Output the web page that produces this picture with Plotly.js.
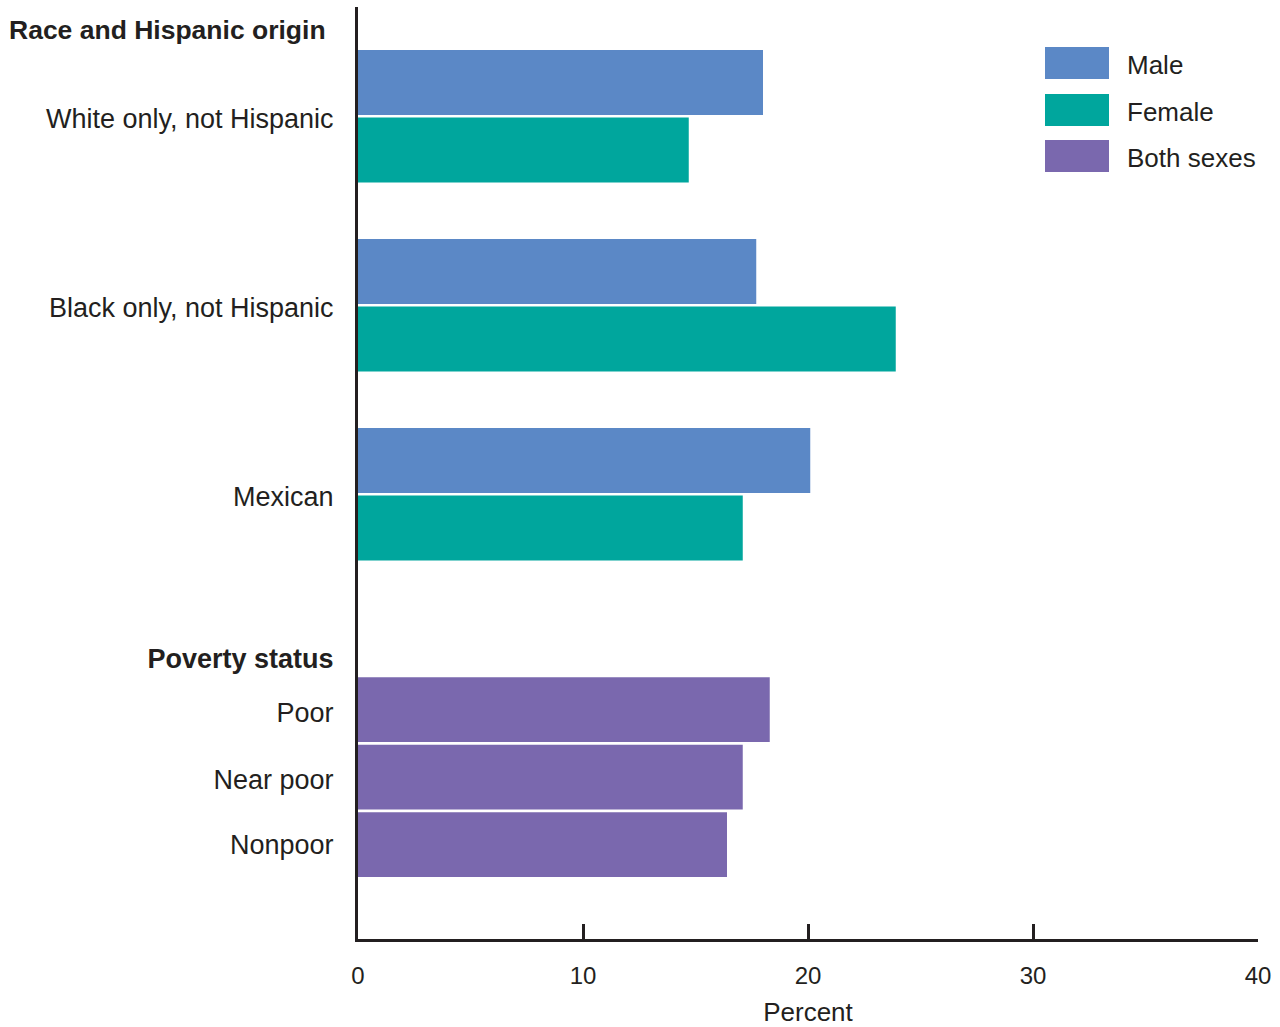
<!DOCTYPE html>
<html>
<head>
<meta charset="utf-8">
<script src="https://cdn.plot.ly/plotly-3.0.1.min.js"></script>
<style>html,body{margin:0;padding:0;background:#fff;}#chart{width:1280px;height:1027px;}</style>
</head>
<body>
<div id="chart"></div>
<script>
// ---- Data ----
const raceGroups = ["White only, not Hispanic", "Black only, not Hispanic", "Mexican"];
const maleValues = [18.0, 17.7, 20.1];
const femaleValues = [14.7, 23.9, 17.1];
const povertyGroups = ["Poor", "Near poor", "Nonpoor"];
const bothSexesValues = [18.3, 17.1, 16.4];
const seriesNames = ["Male", "Female", "Both sexes"];
const xTickValues = [0, 10, 20, 30, 40];
const xTitle = "Percent";
const raceHeader = "Race and Hispanic origin";
const povertyHeader = "Poverty status";

// ---- Layout helpers (row slots) ----
const colors = ["#5B88C6", "#00A69D", "#7A68AE"];
const groupPitch = 2.8;
const povertyStart = 9.29;
const raceMaleY = raceGroups.map((g, i) => i * groupPitch);
const raceFemaleY = raceGroups.map((g, i) => i * groupPitch + 1);
const povertyY = povertyGroups.map((g, j) => povertyStart + j);
const barW = 0.96;
const font = '"Liberation Sans", Arial, Helvetica, sans-serif';
const ink = "#231f20";

const traces = [
  {type: "bar", orientation: "h", name: seriesNames[0], x: maleValues, y: raceMaleY,
   width: barW, marker: {color: colors[0]}, hoverinfo: "x"},
  {type: "bar", orientation: "h", name: seriesNames[1], x: femaleValues, y: raceFemaleY,
   width: barW, marker: {color: colors[1]}, hoverinfo: "x"},
  {type: "bar", orientation: "h", name: seriesNames[2], x: bothSexesValues, y: povertyY,
   width: barW, marker: {color: colors[2]}, hoverinfo: "x"}
];

const labelNudge = [0.05, 0.03, 0.0];
const tickVals = raceGroups.map((g, i) => i * groupPitch + 0.54)
  .concat([povertyStart - 0.75])
  .concat(povertyY.map((v, j) => v + labelNudge[j]));
const tickText = raceGroups.concat(["<b>" + povertyHeader + "</b>"]).concat(povertyGroups);

// legend drawn as shapes + annotations
const legTop = [47, 94, 140];
const plotTop = 7, plotBottom = 939, plotLeft = 358, plotRight = 1258;
const ph = plotBottom - plotTop, pw = plotRight - plotLeft;
const py = v => (plotBottom - v) / ph;
const pxx = v => (v - plotLeft) / pw;
const shapes = [];
const annotations = [];
seriesNames.forEach((n, k) => {
  shapes.push({type: "rect", xref: "paper", yref: "paper",
    x0: pxx(1045), x1: pxx(1109), y0: py(legTop[k] + 32), y1: py(legTop[k]),
    fillcolor: colors[k], line: {width: 0}});
  annotations.push({xref: "paper", yref: "paper", x: pxx(1125), y: py(legTop[k] + 18),
    xanchor: "left", yanchor: "middle", text: n, showarrow: false,
    font: {family: font, size: 26, color: ink}});
});
annotations.push({xref: "paper", yref: "paper", x: pxx(7), y: py(30),
  xanchor: "left", yanchor: "middle", text: "<b>" + raceHeader + "</b>", showarrow: false,
  font: {family: font, size: 26.5, color: ink}});

const slot = 67.5;
const topSlot = -(82.5 - plotTop) / slot;
const botSlot = topSlot + ph / slot;

const layout = {
  width: 1280, height: 1027,
  margin: {l: plotLeft, r: 1280 - plotRight, t: plotTop, b: 1027 - plotBottom},
  paper_bgcolor: "#fff", plot_bgcolor: "#fff",
  showlegend: false,
  barmode: "overlay",
  font: {family: font, color: ink},
  xaxis: {
    range: [0, 40], tickvals: xTickValues, ticktext: xTickValues.map(String),
    showline: true, linewidth: 3, linecolor: ink,
    ticks: "inside", ticklen: 15, tickwidth: 3, tickcolor: ink,
    showgrid: false, zeroline: false,
    tickfont: {family: font, size: 24, color: ink},
    ticklabelstandoff: 13,
    title: {text: xTitle, font: {family: font, size: 26, color: ink}, standoff: 17}
  },
  yaxis: {
    range: [botSlot, topSlot], tickvals: tickVals, ticktext: tickText,
    showline: true, linewidth: 3, linecolor: ink,
    ticks: "", showgrid: false, zeroline: false,
    tickfont: {family: font, size: 27, color: ink},
    ticklabelstandoff: 16
  },
  shapes: shapes,
  annotations: annotations
};

Plotly.newPlot("chart", traces, layout, {displayModeBar: false, staticPlot: true});
</script>
</body>
</html>
